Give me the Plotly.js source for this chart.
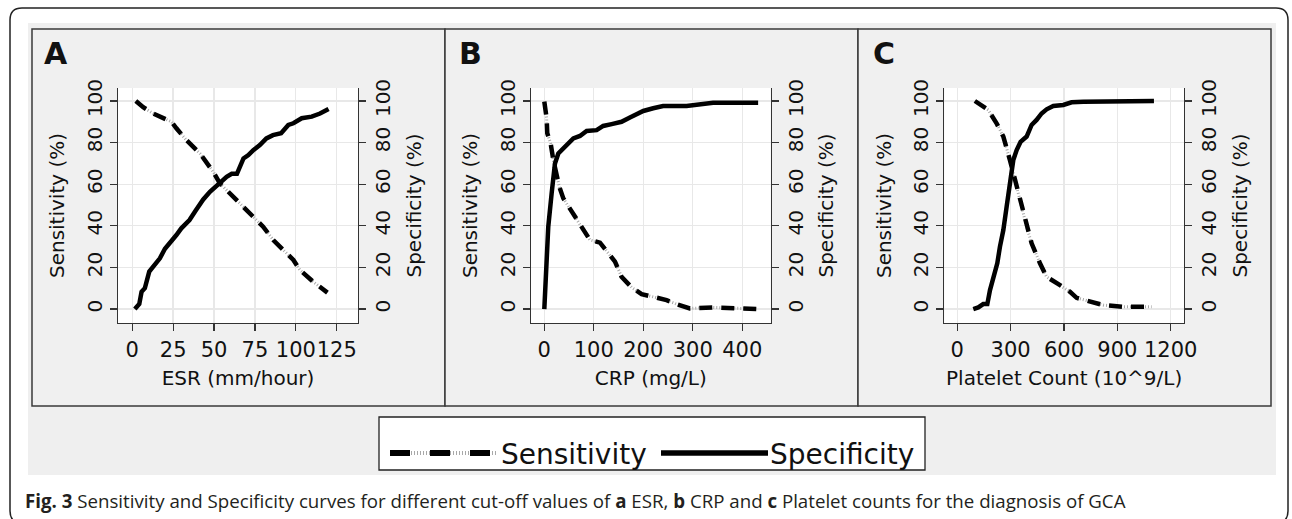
<!DOCTYPE html>
<html>
<head>
<meta charset="utf-8">
<script src="https://cdn.plot.ly/plotly-3.0.1.min.js"></script>
<style>
  html, body { margin: 0; padding: 0; background: #ffffff; }
  #chart { width: 1292px; height: 519px; }
</style>
</head>
<body>
<div id="chart"></div>
<script>
// ---------------- DATA ----------------
// Panel A: ESR (mm/hour)
const esrSensX = [2.2, 6.7, 12.8, 21, 24, 27, 33, 41.4, 49.5, 53.6, 61.8, 65.9, 72, 80, 86.2, 92.4, 98.5, 102.5, 110.7, 119.3];
const esrSensY = [100, 97, 94, 91, 90, 86.9, 81.3, 74.8, 66, 60.4, 54, 50.8, 46, 39.6, 33.2, 28.4, 23.6, 18.8, 13.1, 7.9];
const esrSpecX = [1.6, 4.3, 5.7, 7.7, 10.4, 13.3, 16.9, 20, 23, 27, 30, 35, 39, 43.4, 47.5, 52.6, 57.7, 60.8, 64, 68, 71, 74, 78, 82, 86, 91, 95.4, 98.5, 103.6, 109.7, 114.8, 120];
const esrSpecY = [0, 2.4, 8.3, 10, 18, 21, 24.4, 29, 31.6, 35.6, 38.8, 42.8, 47.6, 52.7, 56.4, 60, 63.6, 65, 65, 72.4, 74, 76.4, 78.8, 82, 83.6, 84.5, 88.5, 89.3, 91.7, 92.5, 94, 96.2];

// Panel B: CRP (mg/L)
const crpSensX = [0, 4.7, 6, 12.8, 18.2, 23.6, 30.3, 38.4, 51.9, 64, 78.8, 92.3, 112.5, 126, 142.8, 156, 176.4, 196.6, 220, 247, 267, 294, 341, 372, 429];
const crpSensY = [99.7, 91.7, 84.5, 79.6, 71.6, 65.2, 58.8, 53.2, 48.4, 43.6, 38, 33.2, 31.9, 27.6, 22.8, 15.5, 10.4, 7.2, 5.9, 4.3, 2.4, 0.3, 0.8, 0.5, 0];
const crpSpecX = [0, 3.4, 8, 14.8, 21.5, 28.3, 38.4, 48.5, 58.6, 72, 85.5, 105.7, 119, 136, 156, 173, 200, 220, 240, 287.5, 307.7, 341, 432];
const crpSpecY = [0, 20.4, 39.6, 55.6, 70, 74.8, 77.2, 79.6, 82, 83.2, 85.6, 86, 88, 88.9, 90, 92.1, 95.2, 96.5, 97.6, 97.6, 98.4, 99.2, 99.2];

// Panel C: Platelet count (10^9/L)
const pltSensX = [99, 137, 174, 221, 259, 296, 324, 352.5, 390, 418, 465, 502.5, 577.5, 634, 671, 746, 821, 934, 1093];
const pltSensY = [100, 98, 95.7, 89.3, 82.9, 71.6, 62, 52.4, 39.6, 31.6, 22, 15.5, 11.5, 8.3, 5.4, 3.5, 1.9, 1.1, 1.1];
const pltSpecX = [90, 118, 146, 169, 184, 206, 225, 240, 259, 277.5, 296, 315, 334, 356, 390, 418, 446, 474, 502.5, 540, 596, 643, 709, 1027, 1106];
const pltSpecY = [0, 0.8, 2.4, 2.4, 9.1, 15.5, 22, 30, 38, 49.2, 60.4, 71.6, 76.4, 80.4, 82.9, 88.5, 90.9, 94, 96, 97.6, 98.1, 99.4, 99.7, 99.7, 100];

// Labels
const panelLetters = ["A", "B", "C"];
const xTitles = ["ESR (mm/hour)", "CRP (mg/L)", "Platelet Count (10^9/L)"];
const yLeftTitle = "Sensitivity (%)";
const yRightTitle = "Specificity (%)";
const xTicks = [[0, 25, 50, 75, 100, 125], [0, 100, 200, 300, 400], [0, 300, 600, 900, 1200]];
const yTicks = [0, 20, 40, 60, 80, 100];
const seriesNames = ["Sensitivity", "Specificity"];
const caption = "<b>Fig. 3</b> Sensitivity and Specificity curves for different cut-off values of <b>a</b> ESR, <b>b</b> CRP and <b>c</b> Platelet counts for the diagnosis of GCA";

// ---------------- LAYOUT HELPERS ----------------
const W = 1292, H = 519;
const fx = x => x / W;
const fy = y => 1 - y / H;

const panels = [
  {plot: [118, 358], xr: [-8.7, 138], box: [32, 445], letterX: 43},
  {plot: [531, 770.7], xr: [-26.9, 457.4], box: [445, 858], letterX: 458},
  {plot: [944.3, 1184], xr: [-73, 1275], box: [858, 1271], letterX: 872}
];
const plotTop = 88, plotBottom = 323;
const yRange = [-6.7, 106.25];
const datasets = [
  [esrSensX, esrSensY, esrSpecX, esrSpecY],
  [crpSensX, crpSensY, crpSpecX, crpSpecY],
  [pltSensX, pltSensY, pltSpecX, pltSpecY]
];

const FONT = "DejaVu Sans";
const axisCol = "#333333";
const traces = [];
const layout = {
  width: W, height: H,
  margin: {l: 0, r: 0, t: 0, b: 0},
  paper_bgcolor: "#ffffff",
  plot_bgcolor: "#ffffff",
  showlegend: false,
  font: {family: FONT, color: "#111111"},
  shapes: [],
  annotations: []
};

// background decorations
function roundRectPath(x0, y0, x1, y1, r) {
  const P = (x, y) => fx(x).toFixed(6) + "," + fy(y).toFixed(6);
  return "M" + P(x0 + r, y0) + " L" + P(x1 - r, y0) + " Q" + P(x1, y0) + " " + P(x1, y0 + r) +
         " L" + P(x1, y1 - r) + " Q" + P(x1, y1) + " " + P(x1 - r, y1) +
         " L" + P(x0 + r, y1) + " Q" + P(x0, y1) + " " + P(x0, y1 - r) +
         " L" + P(x0, y0 + r) + " Q" + P(x0, y0) + " " + P(x0 + r, y0) + " Z";
}
layout.shapes.push({type: "path", xref: "paper", yref: "paper", layer: "below",
  path: roundRectPath(10, 8, 1288, 523, 12), line: {color: "#222", width: 1.5}, fillcolor: "#ffffff"});
layout.shapes.push({type: "rect", xref: "paper", yref: "paper", layer: "below",
  x0: fx(28), x1: fx(1276), y0: fy(475), y1: fy(23), line: {width: 0}, fillcolor: "#efefef"});

panels.forEach((p, i) => {
  const n = i + 1;
  const xa = n === 1 ? "xaxis" : "xaxis" + n;
  const yl = 2 * i + 1, yr = 2 * i + 2;
  const ylName = yl === 1 ? "yaxis" : "yaxis" + yl;
  const yrName = "yaxis" + yr;
  const xId = n === 1 ? "x" : "x" + n;
  const ylId = yl === 1 ? "y" : "y" + yl;
  const yrId = "y" + yr;

  // panel box
  layout.shapes.push({type: "rect", xref: "paper", yref: "paper", layer: "below",
    x0: fx(p.box[0]), x1: fx(p.box[1]), y0: fy(406), y1: fy(29),
    line: {color: "#3a3a3a", width: 1.5}, fillcolor: "#f0f0f0"});
  // white plot area
  layout.shapes.push({type: "rect", xref: xId + " domain", yref: ylId + " domain", layer: "below",
    x0: 0, x1: 1, y0: 0, y1: 1, line: {width: 0}, fillcolor: "#ffffff"});

  const common = {
    ticks: "outside", ticklen: 7, tickwidth: 1.2, tickcolor: axisCol,
    showline: true, linecolor: axisCol, linewidth: 1.3,
    zeroline: false, fixedrange: true
  };
  layout[xa] = Object.assign({}, common, {
    domain: [fx(p.plot[0]), fx(p.plot[1])], range: p.xr, anchor: ylId,
    tickmode: "array", tickvals: xTicks[i], ticktext: xTicks[i].map(String), tickangle: 0,
    showgrid: true, gridcolor: "#e8e8e8", gridwidth: 1.3,
    tickfont: {family: FONT, size: 21, color: "#111"},
    title: {text: xTitles[i], font: {family: FONT, size: 20, color: "#111"}, standoff: 10}
  });
  layout[ylName] = Object.assign({}, common, {
    domain: [fy(plotBottom), fy(plotTop)], range: yRange, anchor: xId, side: "left",
    tickmode: "array", tickvals: yTicks, ticktext: yTicks.map(String), tickangle: -90,
    showgrid: true, gridcolor: "#e8e8e8", gridwidth: 1.3,
    tickfont: {family: FONT, size: 20, color: "#111"},
    title: {text: yLeftTitle, font: {family: FONT, size: 20, color: "#111"}, standoff: 12}
  });
  layout[yrName] = Object.assign({}, common, {
    range: yRange, anchor: xId, overlaying: ylId, side: "right",
    tickmode: "array", tickvals: yTicks, ticktext: yTicks.map(String), tickangle: -90,
    showgrid: false,
    tickfont: {family: FONT, size: 20, color: "#111"},
    title: {text: yRightTitle, font: {family: FONT, size: 20, color: "#111"}, standoff: 12}
  });

  const d = datasets[i];
  // Sensitivity: gray hatch underlay + black dashes
  traces.push({x: d[0], y: d[1], xaxis: xId, yaxis: ylId, type: "scatter", mode: "lines",
    name: seriesNames[0], line: {color: "#a8a8a8", width: 3, dash: "1px,2px"}, hoverinfo: "skip"});
  traces.push({x: d[0], y: d[1], xaxis: xId, yaxis: ylId, type: "scatter", mode: "lines",
    name: seriesNames[0], line: {color: "#000", width: 4.5, dash: "13px,9px"}});
  // Specificity: solid
  traces.push({x: d[2], y: d[3], xaxis: xId, yaxis: yrId, type: "scatter", mode: "lines",
    name: seriesNames[1], line: {color: "#000", width: 4.5}});

  // panel letter
  layout.annotations.push({xref: "paper", yref: "paper", x: fx(p.letterX - 1), y: fy(53),
    xanchor: "left", yanchor: "middle", showarrow: false, text: "<b>" + panelLetters[i] + "</b>",
    font: {family: "DejaVu Sans", size: 30, color: "#111"}});
});

// Manual legend
layout.shapes.push({type: "rect", xref: "paper", yref: "paper", layer: "above",
  x0: fx(379), x1: fx(925), y0: fy(470), y1: fy(417), line: {color: "#222", width: 1.3}, fillcolor: "#ffffff"});
layout.shapes.push({type: "line", xref: "paper", yref: "paper", layer: "above",
  x0: fx(390), x1: fx(498), y0: fy(453), y1: fy(453), line: {color: "#a8a8a8", width: 4, dash: "1px,2px"}});
layout.shapes.push({type: "line", xref: "paper", yref: "paper", layer: "above",
  x0: fx(390), x1: fx(498), y0: fy(453), y1: fy(453), line: {color: "#000", width: 6, dash: "20px,20px"}});
layout.shapes.push({type: "line", xref: "paper", yref: "paper", layer: "above",
  x0: fx(661), x1: fx(768), y0: fy(453), y1: fy(453), line: {color: "#000", width: 5.5}});
layout.annotations.push({xref: "paper", yref: "paper", x: fx(499), y: fy(454), xanchor: "left", yanchor: "middle",
  showarrow: false, text: seriesNames[0], font: {family: FONT, size: 28, color: "#111"}});
layout.annotations.push({xref: "paper", yref: "paper", x: fx(768), y: fy(454), xanchor: "left", yanchor: "middle",
  showarrow: false, text: seriesNames[1], font: {family: FONT, size: 28, color: "#111"}});

// Caption
layout.annotations.push({xref: "paper", yref: "paper", x: fx(23), y: fy(500), xanchor: "left", yanchor: "middle",
  showarrow: false, text: caption, font: {family: "Open Sans", size: 18.7, color: "#231f20"}});

Plotly.newPlot("chart", traces, layout, {staticPlot: true, displayModeBar: false});
</script>
</body>
</html>
